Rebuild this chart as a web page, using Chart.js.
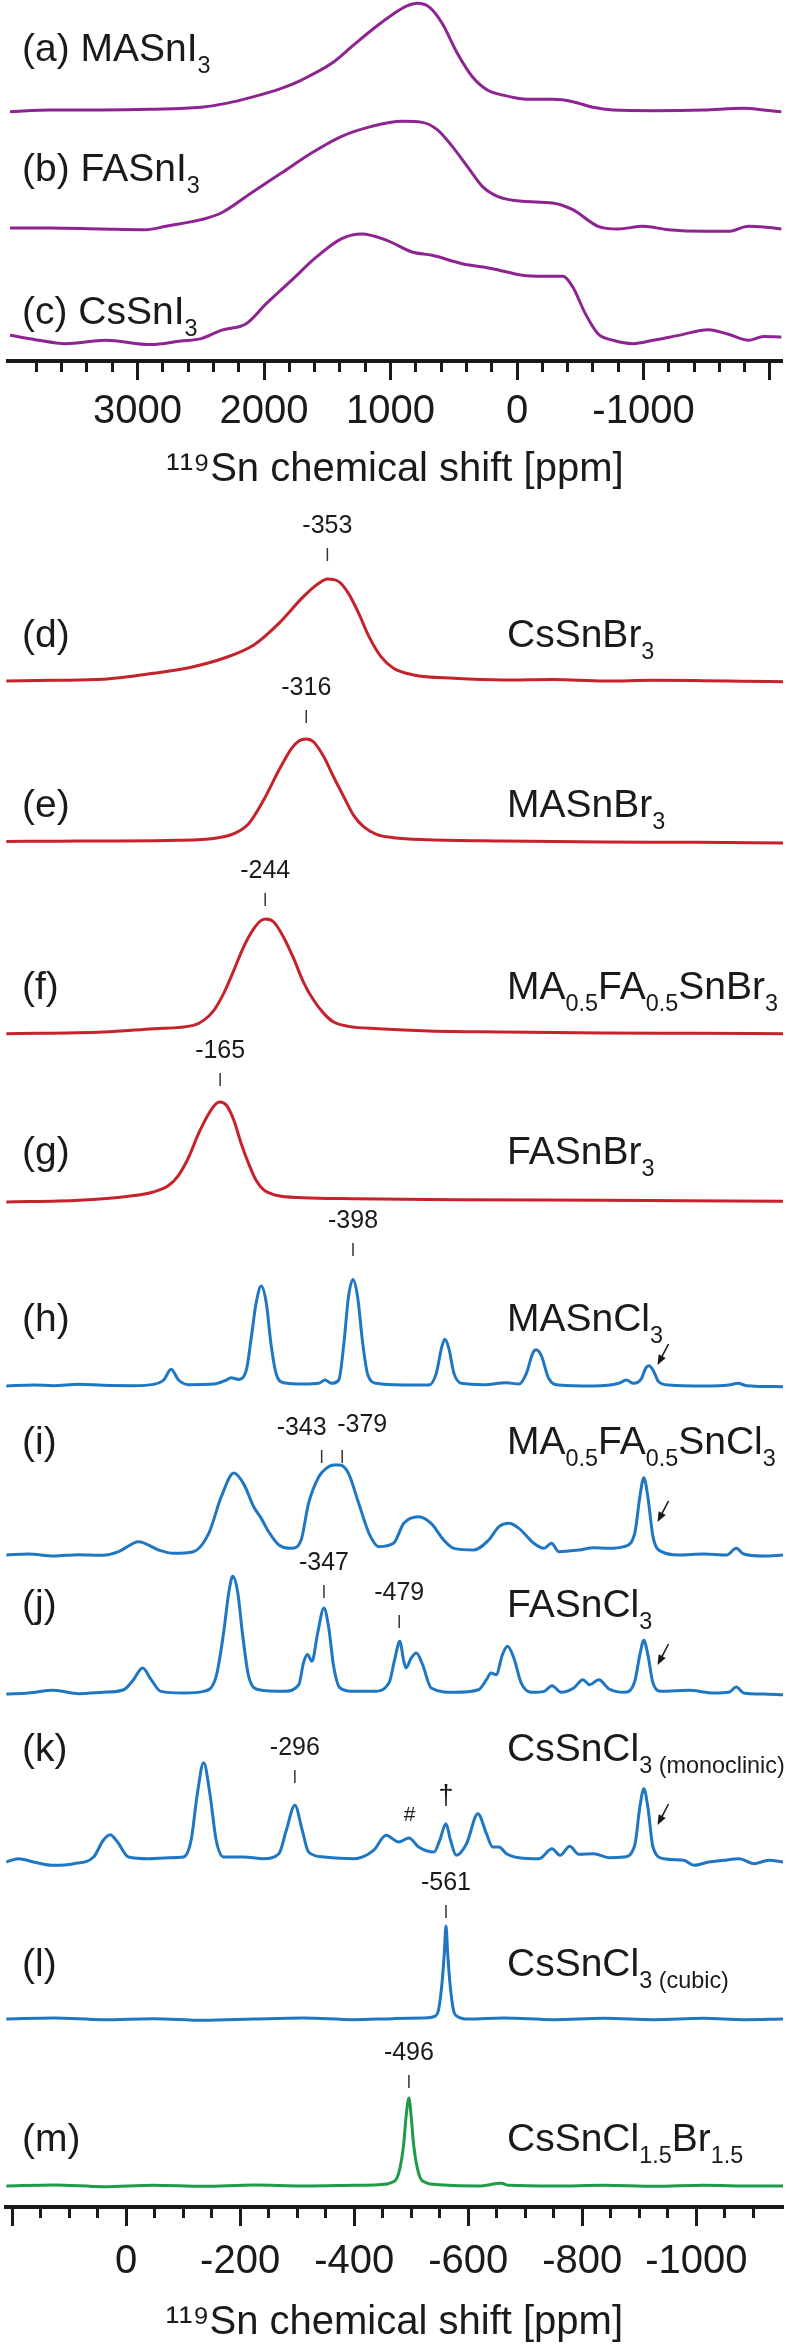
<!DOCTYPE html>
<html>
<head>
<meta charset="utf-8">
<script src="https://cdn.jsdelivr.net/npm/chart.js@4.4.1/dist/chart.umd.min.js"></script>
<style>
  body { margin: 0; background: #fff; width: 788px; height: 2350px; overflow: hidden; }
  canvas { display: block; }
</style>
</head>
<body>
<canvas id="topChart" width="788" height="500"></canvas>
<canvas id="bottomChart" width="788" height="1850"></canvas>
<script>
const FONT = "'Liberation Sans', Arial, Helvetica, sans-serif";
const INK = '#1a1a1a';
const PURPLE = '#8d2491';
const RED = '#c5222b';
const BLUE = '#1f76c2';
const GREEN = '#1f9a47';

// spectra: [ppm, intensity in % of the tallest point]
const specA = [[4008,-1.6],[3690,0],[3293,0],[2895,0.6],[2498,2.5],[2300,6.2],[2101,11.8],[1863,20.2],[1704,28],[1465,43.6],[1307,59.2],[1148,74.8],[989,88.8],[870,97.2],[790,99.7],[691,95.9],[592,81],[472,53],[353,31.1],[234,18.7],[115,14],[-84,10],[-282,10],[-441,7.8],[-600,2.5],[-759,0],[-1077,-0.6],[-1474,0],[-1792,1.6],[-1950,0],[-2090,-1.6]];
const specB = [[4008,0],[3690,0],[3293,-0.9],[2935,-1.6],[2776,1.6],[2498,7.8],[2339,14],[2101,32.7],[1863,51.4],[1624,70.1],[1386,85.7],[1148,95],[909,99.7],[750,98.7],[631,91.9],[512,76.3],[393,57.6],[274,38.9],[155,29.6],[-44,24.9],[-282,23.4],[-441,17.1],[-640,1.6],[-799,-0.9],[-997,1.6],[-1196,-1.6],[-1474,-3.1],[-1672,-3.1],[-1831,1.6],[-1950,0.9],[-2090,-0.9]];
const specC = [[4008,1.6],[3809,-2.6],[3571,-6.5],[3253,-3.2],[2895,-7.4],[2657,-3.9],[2498,-1.6],[2339,6.5],[2141,12.9],[1982,32.4],[1783,55],[1585,77.7],[1386,95.5],[1227,100],[1029,93.8],[830,82.5],[671,79.3],[433,71.2],[194,66.3],[-44,59.9],[-203,58.9],[-362,58.9],[-441,48.5],[-540,22.7],[-640,3.2],[-759,-3.2],[-918,-6.5],[-1077,-3.2],[-1275,1.6],[-1513,7.1],[-1672,2.6],[-1831,-3.2],[-1950,0.6],[-2090,0]];

const specD = [[210,-1],[127,-0.3],[40,0.7],[-48,6.6],[-118,13.2],[-171,21.5],[-224,34.7],[-268,56.1],[-311,82.5],[-338,95.7],[-353,100],[-373,97.4],[-390,85.8],[-408,66],[-426,42.9],[-447,23.1],[-469,11.6],[-504,5],[-575,1.7],[-662,0],[-750,0.6],[-838,-1],[-925,-0.3],[-1013,-0.7],[-1080,-1.2],[-1152,-1.7]];
const specE = [[210,0.6],[120,0.8],[40,1],[-92,1.6],[-162,4.2],[-189,8.1],[-215,17.8],[-241,40.5],[-268,69.6],[-290,90.6],[-303,98.1],[-316,100],[-329,97.1],[-347,82.5],[-364,63.1],[-382,43.7],[-399,25.9],[-417,14.6],[-439,7.4],[-469,4.2],[-531,2.3],[-662,1],[-750,0.4],[-838,0],[-1000,-0.3],[-1152,-1]];
const specF = [[210,-0.6],[40,0.9],[-48,3.8],[-118,6.7],[-136,11.1],[-154,19.9],[-171,34.5],[-189,55],[-206,75.4],[-224,91.5],[-237,98.8],[-245,100],[-259,97.4],[-276,84.2],[-294,65.2],[-311,44.7],[-329,28.7],[-347,17],[-364,9.6],[-390,5.8],[-443,3.8],[-531,1.8],[-662,0.9],[-838,0],[-1000,-0.3],[-1152,-0.6]];
const specG = [[210,0],[83,1.7],[-4,5.7],[-48,10],[-75,16.7],[-92,26.7],[-110,45],[-127,68.3],[-145,88.3],[-158,98.3],[-165,100],[-176,96.7],[-189,81.7],[-202,58.3],[-215,38.3],[-228,21.7],[-241,12.3],[-263,6.7],[-311,4.3],[-399,3.3],[-575,2.3],[-838,1.7],[-1152,0.7]];
const specH = [[210,-0.9],[162,0],[127,-0.6],[83,0.6],[40,-0.3],[-13,-0.6],[-48,0.6],[-66,4.7],[-79,14.8],[-92,4.7],[-110,0.3],[-154,0.9],[-176,4.7],[-184,6.9],[-197,5.3],[-211,14.2],[-219,42.5],[-228,77.1],[-237,93.4],[-246,77.1],[-254,39.3],[-263,11],[-276,2.2],[-311,0.9],[-338,1.6],[-349,4.7],[-360,1.6],[-373,4.7],[-382,39.3],[-390,83.3],[-398,99.6],[-406,83.3],[-415,39.3],[-424,9.4],[-439,1.6],[-487,0],[-531,0],[-544,11],[-553,34.6],[-559,43.1],[-566,34.6],[-575,11],[-588,1.6],[-627,0.3],[-667,2.2],[-689,0.9],[-702,11],[-713,29.9],[-719,33.3],[-728,28],[-741,6.3],[-759,0],[-820,-0.9],[-864,1.6],[-877,4.7],[-890,1.6],[-904,6.3],[-911,15.7],[-917,18.2],[-924,14.2],[-934,3.1],[-952,0],[-1013,-0.9],[-1057,0],[-1073,1.6],[-1088,-0.6],[-1152,-1.6]];
const specI = [[210,0],[171,1.1],[127,-1.1],[83,0.4],[40,-0.4],[13,3.7],[-22,14.8],[-57,5.6],[-83,1.9],[-118,3.7],[-145,24.1],[-167,64.8],[-189,91.1],[-206,79.3],[-224,53.3],[-237,40.7],[-250,25.9],[-268,11.1],[-290,7.4],[-307,16.7],[-320,57.4],[-338,87],[-351,96.3],[-364,100],[-375,100],[-390,90.7],[-408,57.4],[-426,24.1],[-443,9.3],[-469,13],[-487,35.2],[-513,42.6],[-535,35.2],[-557,16.7],[-575,7.4],[-610,5.6],[-636,16.7],[-654,31.5],[-671,35.2],[-689,29.6],[-715,13],[-733,7.4],[-746,13],[-759,3.7],[-794,5.6],[-820,8.1],[-847,7.4],[-873,9.3],[-892,24.1],[-901,64.8],[-908,85.9],[-915,64.8],[-924,20.4],[-939,3.7],[-969,0],[-1013,1.1],[-1053,0],[-1070,7.4],[-1083,1.1],[-1118,-1.1],[-1152,0]];
const specJ = [[210,-0.9],[171,0],[127,2.3],[83,-0.6],[40,0.6],[4,2.8],[-13,11.4],[-29,21.4],[-44,11.4],[-61,1.4],[-101,0],[-136,1.4],[-158,14.2],[-171,51.3],[-180,85.5],[-187,99.7],[-196,85.5],[-204,51.3],[-215,14.2],[-233,2.8],[-276,1.4],[-303,7.1],[-311,25.6],[-318,32.8],[-326,27.1],[-336,51.3],[-347,72.6],[-355,57],[-364,22.8],[-375,4.3],[-399,1.4],[-434,1.4],[-461,8.5],[-471,28.5],[-480,44.2],[-487,27.1],[-491,21.4],[-500,29.9],[-509,34.2],[-520,24.2],[-535,4.3],[-575,0.6],[-618,2.8],[-632,11.4],[-640,17.1],[-649,15.7],[-660,32.8],[-669,39.9],[-680,29.9],[-693,8.5],[-711,0.6],[-733,1.4],[-747,6.3],[-763,0.6],[-785,4.3],[-801,11.4],[-813,7.1],[-829,11.4],[-847,3.4],[-873,0.6],[-892,9.9],[-901,32.8],[-908,45],[-915,32.8],[-924,8.5],[-939,1.4],[-987,2.3],[-1031,0],[-1057,0.6],[-1070,5.1],[-1083,0],[-1118,-0.9],[-1152,-1.4]];
const specK = [[210,0],[189,3.3],[162,0],[127,-3.3],[92,-1.7],[57,5],[40,21.7],[28,27.3],[15,20],[-4,5],[-40,3.3],[-75,4.3],[-101,5],[-114,21.7],[-125,68.3],[-136,99.3],[-147,68.3],[-158,21.7],[-171,5],[-206,5],[-241,3.3],[-268,8.3],[-281,31.7],[-296,56.7],[-309,31.7],[-320,10],[-347,5],[-399,3.3],[-434,11.7],[-456,26.7],[-478,20],[-496,24],[-513,15],[-540,10],[-550,21.7],[-561,38.3],[-569,21.7],[-579,6.7],[-597,18.3],[-617,48.3],[-632,28.3],[-643,15],[-654,15],[-667,8.3],[-689,4.3],[-724,3.3],[-747,13.3],[-761,6.7],[-778,15.7],[-794,7.7],[-820,8.3],[-847,4.3],[-873,5],[-892,16.7],[-901,55],[-908,73.3],[-915,55],[-924,15],[-943,3.3],[-978,1.7],[-996,-3.3],[-1022,0],[-1048,1.7],[-1075,3.3],[-1101,-1.7],[-1127,1.7],[-1152,0]];
const specL = [[210,0],[127,1.1],[40,-0.7],[-48,0.4],[-136,-1.4],[-224,0],[-311,1.1],[-399,-0.7],[-469,0.4],[-522,1.1],[-541,2.8],[-548,9.9],[-554,38.3],[-558,70.2],[-561,100],[-564,70.2],[-568,38.3],[-574,9.9],[-581,2.8],[-601,0],[-662,1.1],[-750,-0.7],[-838,0.7],[-926,-0.7],[-1013,0.7],[-1083,-0.7],[-1152,0]];
const specM = [[210,0],[127,1.1],[40,-0.8],[-48,0.8],[-136,-0.4],[-224,1.1],[-311,0],[-399,0.8],[-443,1.5],[-465,3.8],[-478,14.4],[-487,48.5],[-491,78.8],[-496,100],[-500,78.8],[-504,48.5],[-513,14.4],[-526,3.8],[-548,1.5],[-618,0],[-658,3],[-671,0.8],[-750,0],[-838,0.8],[-926,-0.4],[-1013,0.8],[-1101,0],[-1152,0]];

// axis ticks
const topMajor = [3000, 2000, 1000, 0, -1000, -2000];
const topMinor = [3800, 3600, 3400, 3200, 3000, 2800, 2600, 2400, 2200, 2000, 1800, 1600, 1400, 1200, 1000, 800, 600, 400, 200, 0, -200, -400, -600, -800, -1000, -1200, -1400, -1600, -1800, -2000];
const topLabeled = [3000, 2000, 1000, 0, -1000];
const botMajor = [200, 0, -200, -400, -600, -800, -1000];
const botMinor = [200, 150, 100, 50, 0, -50, -100, -150, -200, -250, -300, -350, -400, -450, -500, -550, -600, -650, -700, -750, -800, -850, -900, -950, -1000, -1050, -1100];
const botLabeled = [0, -200, -400, -600, -800, -1000];

// labels
const topNames = ['(a) MASnI_{3}', '(b) FASnI_{3}', '(c) CsSnI_{3}'];
const botTags = ['(d)', '(e)', '(f)', '(g)', '(h)', '(i)', '(j)', '(k)', '(l)', '(m)'];
const botNames = ['CsSnBr_{3}', 'MASnBr_{3}', 'MA_{0.5}FA_{0.5}SnBr_{3}', 'FASnBr_{3}', 'MASnCl_{3}',
  'MA_{0.5}FA_{0.5}SnCl_{3}', 'FASnCl_{3}', 'CsSnCl_{3 (monoclinic)}', 'CsSnCl_{3 (cubic)}', 'CsSnCl_{1.5}Br_{1.5}'];
const peakPpm = [-353, -316, -244, -165, -398, -343, -379, -347, -479, -296, -561, -496];

// layout (y in px above the axis line)
const topTraces = [
  { spec: specA, base: 251, h: 107, labelY: 314 },
  { spec: specB, base: 133, h: 107, labelY: 194 },
  { spec: specC, base: 24, h: 103, labelY: 51 }
];
const botTraces = [
  { spec: specD, base: 1527, h: 101, color: RED, labelY: 1574 },
  { spec: specE, base: 1365, h: 103, color: RED, labelY: 1404 },
  { spec: specF, base: 1174, h: 114, color: RED, labelY: 1222 },
  { spec: specG, base: 1005, h: 100, color: RED, labelY: 1057 },
  { spec: specH, base: 822, h: 106, color: BLUE, labelY: 890 },
  { spec: specI, base: 652, h: 90, color: BLUE, labelY: 767 },
  { spec: specJ, base: 514, h: 117, color: BLUE, labelY: 604 },
  { spec: specK, base: 345, h: 100, color: BLUE, labelY: 460 },
  { spec: specL, base: 188, h: 93, color: BLUE, labelY: 245 },
  { spec: specM, base: 21, h: 88, color: GREEN, labelY: 70 }
];
const markPos = [
  { top: 1659 }, { top: 1497 }, { top: 1314 }, { top: 1134 }, { top: 964 },
  { top: 757, dx: -20 }, { top: 757, dx: 20, dy: 3 }, { top: 622 }, { top: 592 },
  { top: 437 }, { top: 302 }, { top: 132 }
];
const arrowY = [842, 685, 542, 382];

function richText(ctx, str, x, y, size) {
  const re = /([_^])\{([^}]*)\}|([^_^]+)/g;
  const base = y + size * 0.36;
  let cx = x, m;
  ctx.textAlign = 'left';
  ctx.textBaseline = 'alphabetic';
  while ((m = re.exec(str))) {
    let t = m[3], s = size, dy = 0;
    if (!t) {
      t = m[2];
      s = size * 0.6;
      dy = m[1] === '_' ? size * 0.3 : -size * 0.38;
    }
    ctx.font = s + 'px ' + FONT;
    ctx.fillText(t, cx, base + dy);
    cx += ctx.measureText(t).width;
  }
}

function makeDatasets(traces, color) {
  return traces.map(t => ({
    data: t.spec.map(([x, v]) => ({ x, y: t.base + v / 100 * t.h })),
    borderColor: t.color || color,
    borderWidth: 3,
    pointRadius: 0,
    cubicInterpolationMode: 'monotone',
    clip: false
  }));
}

function xAxes(min, max, major, minor, labeled, height, tickPad, titlePad) {
  return {
    x: {
      type: 'linear', reverse: true, min, max,
      afterBuildTicks: s => { s.ticks = major.map(v => ({ value: v })); },
      afterFit: s => { s.height = height; },
      border: { display: true, width: 4, color: INK },
      grid: { drawOnChartArea: false, tickLength: 19, tickWidth: 3, tickColor: INK },
      ticks: {
        autoSkip: false, maxRotation: 0, padding: tickPad, color: INK,
        font: { family: FONT, size: 40 },
        callback: v => labeled.includes(v) ? String(v) : ''
      },
      title: {
        display: true, text: '¹¹⁹Sn chemical shift [ppm]', color: INK,
        font: { family: FONT, size: 40 }, padding: { top: 0, bottom: titlePad }
      }
    },
    xm: {
      type: 'linear', axis: 'x', reverse: true, min, max, position: { y: 0 },
      afterBuildTicks: s => { s.ticks = minor.map(v => ({ value: v })); },
      border: { display: false },
      grid: { drawOnChartArea: false, tickLength: 11, tickWidth: 3, tickColor: INK },
      ticks: { display: false }
    }
  };
}

const topDecor = {
  id: 'topDecor',
  afterDatasetsDraw(chart) {
    const { ctx, scales: { y } } = chart;
    ctx.save();
    ctx.fillStyle = INK;
    topTraces.forEach((t, i) => richText(ctx, topNames[i], 22, y.getPixelForValue(t.labelY), 39));
    ctx.restore();
  }
};

const botDecor = {
  id: 'botDecor',
  afterDatasetsDraw(chart) {
    const { ctx, scales: { x, y } } = chart;
    ctx.save();
    ctx.fillStyle = INK;
    botTraces.forEach((t, i) => {
      const py = y.getPixelForValue(t.labelY);
      richText(ctx, botTags[i], 22, py, 39);
      richText(ctx, botNames[i], 507, py, 39);
    });

    // peak position marks
    ctx.strokeStyle = '#333';
    ctx.lineWidth = 1.5;
    ctx.font = '25px ' + FONT;
    ctx.textAlign = 'center';
    ctx.textBaseline = 'middle';
    peakPpm.forEach((p, i) => {
      const m = markPos[i];
      const px = x.getPixelForValue(p), py = y.getPixelForValue(m.top);
      ctx.beginPath();
      ctx.moveTo(px, py);
      ctx.lineTo(px, py + 13);
      ctx.stroke();
      ctx.fillText(String(p), px + (m.dx || 0), py - 22 - (m.dy || 0));
    });

    // arrows to the peak near -908 ppm
    ctx.strokeStyle = INK;
    ctx.lineWidth = 1.6;
    arrowY.forEach(v => {
      const tx = x.getPixelForValue(-932), ty = y.getPixelForValue(v);
      const sx = tx + 11, sy = ty - 21;
      const a = Math.atan2(ty - sy, tx - sx);
      ctx.beginPath();
      ctx.moveTo(sx, sy);
      ctx.lineTo(tx - 6 * Math.cos(a), ty - 6 * Math.sin(a));
      ctx.stroke();
      ctx.beginPath();
      ctx.moveTo(tx, ty);
      ctx.lineTo(tx - 10 * Math.cos(a) + 4 * Math.sin(a), ty - 10 * Math.sin(a) - 4 * Math.cos(a));
      ctx.lineTo(tx - 10 * Math.cos(a) - 4 * Math.sin(a), ty - 10 * Math.sin(a) + 4 * Math.cos(a));
      ctx.closePath();
      ctx.fill();
    });

    // impurity symbols in (k)
    ctx.font = '21px ' + FONT;
    ctx.fillText('#', x.getPixelForValue(-497), y.getPixelForValue(392));
    ctx.font = '27px ' + FONT;
    ctx.fillText('†', x.getPixelForValue(-561), y.getPixelForValue(410));
    ctx.restore();
  }
};

const common = {
  responsive: false,
  maintainAspectRatio: false,
  animation: false,
  events: [],
  plugins: { legend: { display: false }, tooltip: { enabled: false } }
};

new Chart(document.getElementById('topChart'), {
  type: 'line',
  data: { datasets: makeDatasets(topTraces, PURPLE) },
  options: Object.assign({}, common, {
    layout: { padding: { left: 8, right: 6, top: 0, bottom: 0 } },
    scales: Object.assign(xAxes(-2095, 4024, topMajor, topMinor, topLabeled, 139, 8, 6), {
      y: { type: 'linear', display: false, min: 0, max: 361 }
    })
  }),
  plugins: [topDecor]
});

new Chart(document.getElementById('bottomChart'), {
  type: 'line',
  data: { datasets: makeDatasets(botTraces, BLUE) },
  options: Object.assign({}, common, {
    layout: { padding: { left: 2, right: 5, top: 0, bottom: 0 } },
    scales: Object.assign(xAxes(-1152, 211, botMajor, botMinor, botLabeled, 143, 12, 3), {
      y: { type: 'linear', display: false, min: 0, max: 1707 }
    })
  }),
  plugins: [botDecor]
});
</script>
</body>
</html>
